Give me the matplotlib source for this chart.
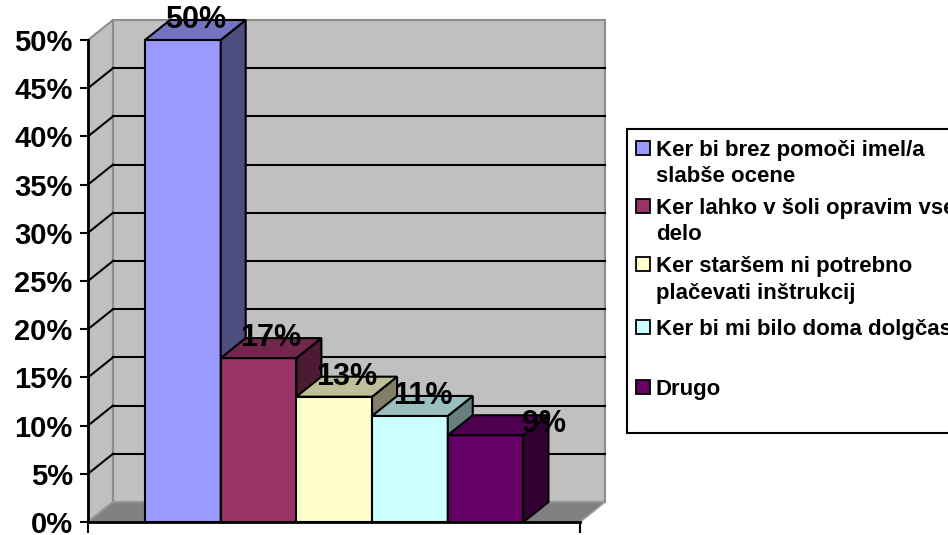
import matplotlib
matplotlib.use("Agg")
import matplotlib.pyplot as plt
from matplotlib.patches import Polygon, Rectangle

plt.rcParams['font.family'] = ['Liberation Sans', 'DejaVu Sans']
plt.rcParams['font.weight'] = 'bold'

# data
categories = ["Ker bi brez pomoči imel/a\nslabše ocene",
              "Ker lahko v šoli opravim vse\ndelo",
              "Ker staršem ni potrebno\nplačevati inštrukcij",
              "Ker bi mi bilo doma dolgčas",
              "Drugo"]
values = [50, 17, 13, 11, 9]
y_ticks = [0, 5, 10, 15, 20, 25, 30, 35, 40, 45, 50]
y_tick_labels = [f"{v}%" for v in y_ticks]

front_colors = ['#9999FF', '#993366', '#FFFFCC', '#CCFFFF', '#660066']
side_colors = ['#4D4D80', '#4D1A33', '#808066', '#668080', '#330033']
top_colors = ['#7373BF', '#73264D', '#BFBF99', '#99BFBF', '#4D004D']

W, H = 948, 535
fig = plt.figure(figsize=(W / 100, H / 100), dpi=100)
fig.patch.set_facecolor('white')

# front plane of the 3d box, in pixels
left, right, bottom, top = 88, 580, 522, 40
ax = fig.add_axes([left / W, (H - bottom) / H, (right - left) / W, (bottom - top) / H])
ax.set_facecolor('none')

x_max = 6.5
ax.set_xlim(0, x_max)
ax.set_ylim(0, 50)
unit_px = (right - left) / x_max
pct_px = (bottom - top) / 50.0
dx = 25 / unit_px          # depth of the box, data units
dy = 20 / pct_px
gap = 57 / unit_px          # space before the first bar
wall = '#c0c0c0'
wall_edge = '#8c8c8c'

# left wall
ax.add_patch(Polygon([(0, 0), (dx, dy), (dx, 50 + dy), (0, 50)], closed=True,
                     facecolor=wall, edgecolor=wall_edge, lw=1.5, clip_on=False, zorder=1))
# back wall
ax.add_patch(Polygon([(dx, dy), (x_max + dx, dy), (x_max + dx, 50 + dy), (dx, 50 + dy)],
                     closed=True, facecolor=wall, edgecolor=wall_edge, lw=1.5,
                     clip_on=False, zorder=1))
# floor
ax.add_patch(Polygon([(0, 0), (x_max, 0), (x_max + dx, dy), (dx, dy)], closed=True,
                     facecolor='#808080', edgecolor='#999999', lw=1.2, clip_on=False, zorder=1))

# grid lines on the walls
for v in y_ticks[1:-1]:
    ax.plot([0, dx], [v, v + dy], color='black', lw=1.5, clip_on=False, zorder=1.5)
    ax.plot([dx, x_max + dx], [v + dy, v + dy], color='black', lw=1.5,
            clip_on=False, zorder=1.5)

# bars, drawn left to right so each one covers the side of the previous
for i, v in enumerate(values):
    x0 = gap + i
    x1 = x0 + 1
    ax.add_patch(Polygon([(x0, 0), (x1, 0), (x1, v), (x0, v)], closed=True,
                         facecolor=front_colors[i], edgecolor='black', lw=1.5,
                         clip_on=False, zorder=3 + i))
    ax.add_patch(Polygon([(x1, 0), (x1 + dx, dy), (x1 + dx, v + dy), (x1, v)], closed=True,
                         facecolor=side_colors[i], edgecolor='black', lw=1.5,
                         clip_on=False, zorder=3 + i))
    ax.add_patch(Polygon([(x0, v), (x1, v), (x1 + dx, v + dy), (x0 + dx, v + dy)],
                         closed=True, facecolor=top_colors[i], edgecolor='black', lw=1.5,
                         clip_on=False, zorder=3 + i))

# value labels (the last one sits off to the right, as in the original)
label_dx = [0, 0, 0, 0, 0.61]
label_dy = [0, 0, 0, 0, -0.9]
for i, v in enumerate(values):
    ax.text(gap + i + 0.5 + dx / 2 + label_dx[i], v + dy + label_dy[i], f"{v}%",
            ha='center', va='center', fontsize=22, fontweight='bold', zorder=20)

# axes
for s in ['top', 'right']:
    ax.spines[s].set_visible(False)
for s in ['left', 'bottom']:
    ax.spines[s].set_linewidth(2)
    ax.spines[s].set_zorder(10)
ax.set_yticks(y_ticks)
ax.set_yticklabels(y_tick_labels, fontsize=21, fontweight='bold')
ax.set_xticks([0, x_max])
ax.set_xticklabels(['', ''])
ax.tick_params(axis='y', length=6, width=1.5, pad=5)
ax.tick_params(axis='x', length=8, width=1.5)

# legend, drawn in pixel coordinates
lg = fig.add_axes([0, 0, 1, 1], zorder=30)
lg.set_xlim(0, W)
lg.set_ylim(H, 0)
lg.axis('off')
lg.add_patch(Rectangle((627, 129), 340, 304, facecolor='white', edgecolor='black', lw=1.5))
entry_y = [156, 214, 272, 335, 395]
for i, name in enumerate(categories):
    lg.add_patch(Rectangle((636, entry_y[i] - 15), 14, 14, facecolor=front_colors[i],
                           edgecolor='black', lw=1.3))
    for j, line in enumerate(name.split('\n')):
        lg.text(656, entry_y[i] + j * 26.5, line, ha='left', va='baseline',
                fontsize=16, fontweight='bold')

fig.savefig('out.png', dpi=100)
